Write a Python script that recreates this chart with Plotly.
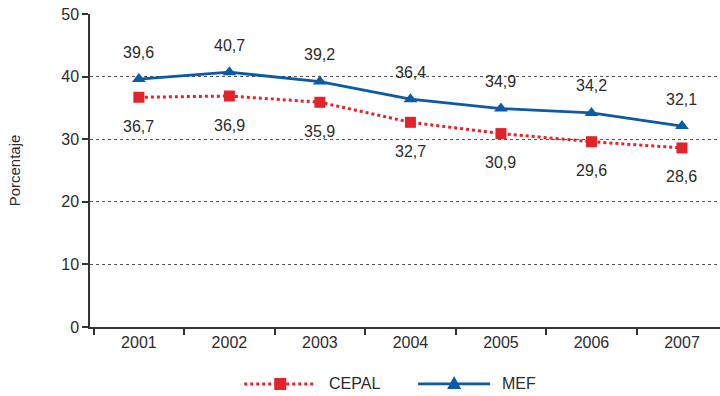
import plotly.graph_objects as go

years = [2001, 2002, 2003, 2004, 2005, 2006, 2007]
cepal = [36.7, 36.9, 35.9, 32.7, 30.9, 29.6, 28.6]
mef = [39.6, 40.7, 39.2, 36.4, 34.9, 34.2, 32.1]
series_names = ["CEPAL", "MEF"]

RED = "#e3232a"
BLUE = "#0b5aa6"
TXT = "#2b2b2b"
FONT = "Liberation Sans, Arial, sans-serif"
FS = 16


def fmt(v):
    return f"{v:.1f}".replace(".", ",")


fig = go.Figure()
fig.add_trace(go.Scatter(
    x=years, y=cepal, name=series_names[0], mode="lines+markers",
    line=dict(color=RED, width=3, dash="dot"),
    marker=dict(symbol="square", size=11, color=RED),
))
fig.add_trace(go.Scatter(
    x=years, y=mef, name=series_names[1], mode="lines+markers",
    line=dict(color=BLUE, width=2.8),
    marker=dict(symbol="triangle-up", size=12, color=BLUE),
))

# value labels: MEF above its points, CEPAL below
for x, v in zip(years, mef):
    fig.add_annotation(x=x, y=v, text=fmt(v), showarrow=False, yshift=27,
                       font=dict(size=FS, color=TXT, family=FONT))
for x, v in zip(years, cepal):
    fig.add_annotation(x=x, y=v, text=fmt(v), showarrow=False, yshift=-29,
                       font=dict(size=FS, color=TXT, family=FONT))

# legend drawn below the plot with long line samples
LEG_Y = -0.182
legend_items = [
    (series_names[0], RED, "dot", 0.302, "square", 0.376),
    (series_names[1], BLUE, "solid", 0.578, "triangle", 0.651),
]
for name, color, dash, xc, sym, xt in legend_items:
    fig.add_shape(type="line", xref="paper", yref="paper",
                  xsizemode="pixel", ysizemode="pixel",
                  xanchor=xc, yanchor=LEG_Y, x0=-36, x1=36, y0=0, y1=0,
                  line=dict(color=color, width=3 if dash == "dot" else 2.8, dash=dash))
    if sym == "square":
        path = "M-6,-6 L6,-6 L6,6 L-6,6 Z"
    else:
        path = "M-7,-5 L7,-5 L0,8 Z"
    fig.add_shape(type="path", xref="paper", yref="paper",
                  xsizemode="pixel", ysizemode="pixel",
                  xanchor=xc, yanchor=LEG_Y, path=path,
                  fillcolor=color, line=dict(width=0))
    fig.add_annotation(xref="paper", yref="paper", x=xt, y=LEG_Y, text=name,
                       showarrow=False, xanchor="left", yanchor="middle",
                       font=dict(size=FS, color=TXT, family=FONT))

fig.update_layout(
    width=720, height=396,
    margin=dict(l=90, r=0, t=14, b=69),
    paper_bgcolor="white", plot_bgcolor="white",
    font=dict(family=FONT, size=FS, color=TXT),
    showlegend=False,
    xaxis=dict(
        range=[2000.46, 2007.42],
        tickvals=years, ticktext=[str(y) for y in years],
        ticks="", showgrid=False, zeroline=False,
        showline=True, linecolor="#333333", linewidth=1.5,
        tickfont=dict(size=FS, color=TXT),
        minor=dict(ticks="outside", tick0=2000.5, dtick=1, ticklen=6,
                   tickcolor="#333333", tickwidth=1.5, showgrid=False),
    ),
    yaxis=dict(
        range=[0, 50], dtick=10,
        showgrid=True, gridcolor="#555555", griddash="dot", gridwidth=1,
        zeroline=False,
        showline=True, linecolor="#333333", linewidth=1.5,
        ticks="outside", ticklen=6, tickcolor="#333333", tickwidth=1.5,
        tickfont=dict(size=FS, color=TXT),
        title=dict(text="Porcentaje", font=dict(size=15, color=TXT), standoff=37),
    ),
)

fig.write_html("out.html")
